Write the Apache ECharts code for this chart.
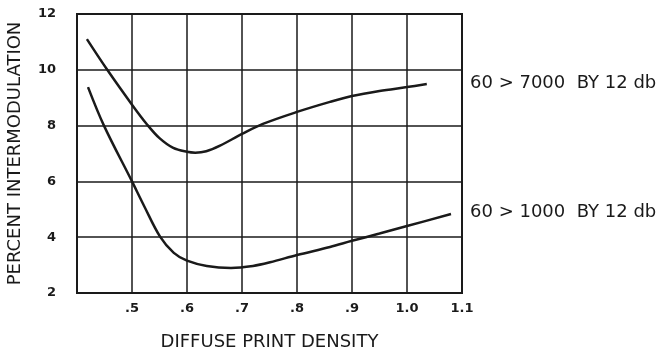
<!DOCTYPE html>
<html>
<head>
<meta charset="utf-8">
<script src="https://cdn.jsdelivr.net/npm/echarts@6/dist/echarts.min.js"></script>
<style>html,body{margin:0;padding:0;background:#fff;}#c{width:670px;height:348px;}</style>
</head>
<body>
<div id="c"></div>
<script>
var seriesNames = ['60 > 7000  BY 12 db', '60 > 1000  BY 12 db'];
var upperX = [0.418, 0.455, 0.50, 0.527, 0.55, 0.575, 0.60, 0.615, 0.635, 0.66, 0.70, 0.738, 0.80, 0.86, 0.90, 0.95, 1.00, 1.036];
var upperY = [11.1, 10.0, 8.75, 8.05, 7.55, 7.2, 7.06, 7.03, 7.08, 7.28, 7.7, 8.06, 8.49, 8.85, 9.06, 9.24, 9.38, 9.49];
var lowerX = [0.42, 0.449, 0.50, 0.522, 0.551, 0.576, 0.60, 0.636, 0.68, 0.72, 0.751, 0.80, 0.86, 0.90, 0.95, 1.00, 1.08];
var lowerY = [9.38, 8.0, 6.0, 5.12, 4.02, 3.44, 3.16, 2.97, 2.9, 2.97, 3.1, 3.36, 3.65, 3.87, 4.13, 4.4, 4.83];
var xTickLabels = ['', '.5', '.6', '.7', '.8', '.9', '1.0', '1.1'];
var yTickLabels = ['2', '4', '6', '8', '10', '12'];
var xMin = 0.4, xMax = 1.1, xStep = 0.1;
var yMin = 2, yMax = 12, yStep = 2;

function pairs(xs, ys){ return xs.map(function(x,i){ return [x, ys[i]]; }); }

var chart = echarts.init(document.getElementById('c'), null, {renderer:'canvas'});
var ink = '#1a1a1a';
var font = '"DejaVu Sans", sans-serif';
chart.setOption({
  animation: false,
  backgroundColor: '#fff',
  grid: {left: 77, right: 208, top: 14, bottom: 55, containLabel: false, outerBoundsMode: 'none'},
  xAxis: {
    type: 'value', min: xMin, max: xMax, interval: xStep,
    name: 'DIFFUSE PRINT DENSITY', nameLocation: 'middle', nameGap: 40,
    nameTextStyle: {color: ink, fontSize: 18, fontFamily: font},
    axisLine: {show: true, lineStyle: {color: ink, width: 2}},
    axisTick: {show: false},
    axisLabel: {color: ink, fontSize: 13, fontFamily: font, fontWeight: 'bold', margin: 9,
      formatter: function(v){ return xTickLabels[Math.round((v - xMin)/xStep)] || ''; }},
    splitLine: {show: true, lineStyle: {color: ink, width: 1.5}}
  },
  yAxis: {
    type: 'value', min: yMin, max: yMax, interval: yStep,
    name: 'PERCENT INTERMODULATION', nameLocation: 'middle', nameGap: 53,
    nameTextStyle: {color: ink, fontSize: 18, fontFamily: font},
    axisLine: {show: true, lineStyle: {color: ink, width: 2}},
    axisTick: {show: false},
    axisLabel: {color: ink, fontSize: 13, fontFamily: font, fontWeight: 'bold', margin: 21,
      formatter: function(v){ return yTickLabels[Math.round((v - yMin)/yStep)] || ''; }},
    splitLine: {show: true, lineStyle: {color: ink, width: 1.5}}
  },
  graphic: [
    {type: 'rect', shape: {x: 77, y: 14, width: 385, height: 279}, style: {fill: 'none', stroke: ink, lineWidth: 2}, z: 10},
    {type: 'text', left: 470, top: 74, style: {text: seriesNames[0], fill: ink, font: '18px ' + font}},
    {type: 'text', left: 470, top: 203, style: {text: seriesNames[1], fill: ink, font: '18px ' + font}}
  ],
  series: [
    {name: seriesNames[0], type: 'line', smooth: 0.35, symbol: 'none', data: pairs(upperX, upperY),
     lineStyle: {color: ink, width: 2.5}, z: 5},
    {name: seriesNames[1], type: 'line', smooth: 0.35, symbol: 'none', data: pairs(lowerX, lowerY),
     lineStyle: {color: ink, width: 2.5}, z: 5}
  ]
});
</script>
</body>
</html>
